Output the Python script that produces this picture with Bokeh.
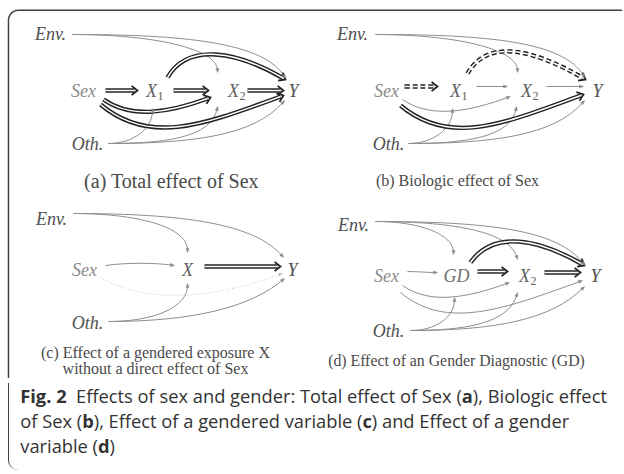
import numpy as np
from bokeh.plotting import figure
from bokeh.models import Range1d, Div, ColumnDataSource
from bokeh.layouts import column
from bokeh.core.properties import value
from bokeh.embed import file_html
from bokeh.resources import INLINE

# ---------------- data ----------------
panels = ["a", "b", "c", "d"]
captions = {
    "a": ["(a) Total effect of Sex"],
    "b": ["(b) Biologic effect of Sex"],
    "c": ["(c) Effect of a gendered exposure X", "without a direct effect of Sex"],
    "d": ["(d) Effect of an Gender Diagnostic (GD)"],
}
node_labels = {  # node id -> (main text, subscript)
    "Env": ("Env.", ""), "Sex": ("Sex", ""), "X1": ("X", "1"), "X2": ("X", "2"),
    "X": ("X", ""), "GD": ("GD", ""), "Y": ("Y", ""), "Oth": ("Oth.", ""),
}
panel_nodes = {
    "a": ["Env", "Sex", "X1", "X2", "Y", "Oth"],
    "b": ["Env", "Sex", "X1", "X2", "Y", "Oth"],
    "c": ["Env", "Sex", "X", "Y", "Oth"],
    "d": ["Env", "Sex", "GD", "X2", "Y", "Oth"],
}
# edges: (from, to, kind); kind: double = highlighted path, dashdouble = biologic path
edges = {
    "a": [("Env", "X2", "thin"), ("Env", "Y", "thin"), ("Sex", "X1", "double"),
          ("X1", "X2", "double"), ("X2", "Y", "double"), ("X1", "Y", "double"),
          ("Sex", "X2", "double"), ("Sex", "Y", "double"), ("Oth", "X1", "thin"),
          ("Oth", "X2", "thin"), ("Oth", "Y", "thin")],
    "b": [("Env", "X2", "thin"), ("Env", "Y", "thin"), ("Sex", "X1", "dashdouble"),
          ("X1", "X2", "thin"), ("X2", "Y", "thin"), ("X1", "Y", "dashdouble"),
          ("Sex", "X2", "thin"), ("Sex", "Y", "double"), ("Oth", "X1", "thin"),
          ("Oth", "X2", "thin"), ("Oth", "Y", "thin")],
    "c": [("Env", "X", "thin"), ("Env", "Y", "thin"), ("Sex", "X", "thin"),
          ("X", "Y", "double"), ("Sex", "Y", "dotted"), ("Oth", "X", "thin"),
          ("Oth", "Y", "thin")],
    "d": [("Env", "GD", "thin"), ("Env", "X2", "thin"), ("Env", "Y", "thin"),
          ("Sex", "GD", "thin"), ("GD", "X2", "double"), ("X2", "Y", "double"),
          ("GD", "Y", "double"), ("Sex", "X2", "thin"), ("Sex", "Y", "thin"),
          ("Oth", "GD", "thin"), ("Oth", "X2", "thin"), ("Oth", "Y", "thin")],
}
fig_caption_lines = [
    "<b>Fig. 2</b>&nbsp; Effects of sex and gender: Total effect of Sex (<b>a</b>), Biologic effect",
    "of Sex (<b>b</b>), Effect of a gendered variable (<b>c</b>) and Effect of a gender",
    "variable (<b>d</b>)",
]

# ---------------- layout (page pixel space) ----------------
node_pos = {
    "a": {"Env": (50, 33), "Sex": (83, 90), "X1": (151, 90), "X2": (233, 90), "Y": (293, 90), "Oth": (87, 143)},
    "b": {"Env": (352, 33), "Sex": (386, 90), "X1": (455, 90), "X2": (526, 90), "Y": (597, 90), "Oth": (388, 143)},
    "c": {"Env": (51, 218), "Sex": (84, 269), "X": (187, 269), "Y": (292, 269), "Oth": (87, 322)},
    "d": {"Env": (353, 224), "Sex": (386, 275), "GD": (456, 275), "X2": (524, 275), "Y": (595, 275), "Oth": (388, 330)},
}
# (start offset, end offset, out angle, in angle, control length out, control length in)
edge_geom = {
    "a": [((22, 1), (-16, -18), 0, 90, 80, 22), ((22, 1), (-8, -12), 0, 120, 110, 40),
          ((22, 0), (-14, 0), 0, 180, None, None), ((22, 0), (-25, 0), 0, 180, None, None),
          ((14, 0), (-10, 0), 0, 180, None, None), ((16, -13), (-8, -11), 60, 150, 41, 53),
          ((20, 9), (-23, 7), -35, -160, 35, 40), ((17, 14), (-10, 5), -40, -160, 65, 80),
          ((21, 0), (1, 18), 0, -90, 25, 18), ((21, 0), (-16, 16), 0, -100, 55, 30),
          ((21, 0), (-9, 10), 0, -130, 80, 45)],
    "b": [((23, 1), (-9, -18), 0, 90, 78, 22), ((23, 1), (-13, -13), 0, 120, 110, 40),
          ((18, -4), (-18, -4), 0, 180, None, None), ((21, -4), (-19, -4), 0, 180, None, None),
          ((20, -4), (-14, -4), 0, 180, None, None), ((12, -17), (-12, -11), 60, 150, 42, 55),
          ((16, 9), (-16, 6), -35, -160, 35, 40), ((14, 15), (-14, 4), -40, -160, 65, 80),
          ((20, 0), (-3, 18), 0, -90, 25, 18), ((20, 0), (-10, 16), 0, -100, 55, 30),
          ((20, 0), (-13, 10), 0, -130, 80, 45)],
    "c": [((22, -5), (0, -17), 0, 90, 60, 25), ((22, -5), (-9, -12), 0, 130, 110, 42),
          ((21, -4), (-13, -4), 8, 172, 20, 20), ((17, -3), (-12, -3), 0, 180, None, None),
          ((16, 8), (-10, 4), -30, -160, 55, 70), ((21, -1), (0, 14), 0, -90, 45, 22),
          ((21, -1), (-8, 9), 0, -140, 90, 40)],
    "d": [((22, -3), (-3, -21), 0, 90, 45, 18), ((22, -3), (-7, -16), 0, 105, 85, 25),
          ((22, -3), (-11, -10), 0, 125, 110, 42), ((21, -4), (-19, -3), 0, 180, None, None),
          ((21, -4), (-17, -4), 0, 180, None, None), ((20, -3), (-15, -3), 0, 180, None, None),
          ((14, -13), (-11, -10), 55, 150, 40, 50), ((16, 10), (-15, 7), -35, -160, 35, 40),
          ((14, 17), (-13, 5), -40, -160, 60, 80), ((22, 0), (-2, 22), 0, -90, 25, 18),
          ((22, 0), (-7, 17), 0, -105, 55, 30), ((22, 0), (-11, 11), 0, -135, 85, 45)],
}
caption_pos = {"a": [(171, 180)], "b": [(457, 180)], "c": [(155, 352), (155, 368)], "d": [(456, 360)]}
caption_size = {"a": "20px", "b": "16px", "c": "16px", "d": "15.8px"}
node_color = {"Env": "#505050", "Sex": "#8a8a8a", "X1": "#606060", "X2": "#606060", "X": "#606060",
              "GD": "#707070", "Y": "#505050", "Oth": "#505050"}

W, H, HC = 622, 378, 94
p = figure(width=W, height=H, x_range=Range1d(0, W), y_range=Range1d(H, 0),
           output_backend="svg", toolbar_location=None, min_border=0,
           x_axis_location=None, y_axis_location=None)
p.grid.visible = False
p.outline_line_color = None
p.background_fill_color = "white"
p.border_fill_color = "white"

# ---- frame (top + left edge with rounded corner) ----
r = 10
fx, fy = 8.0, 9.75
ang = np.linspace(np.pi, 1.5 * np.pi, 20)
arc_x = list(fx + r + r * np.cos(ang))
arc_y = list(fy + r + r * np.sin(ang))
p.line([fx] + [fx] + arc_x + [W], [H] + [fy + r] + arc_y + [fy],
       line_color="#404040", line_width=1.5)

# ---- edges ----
kinds = ["thin", "dotted", "double", "dashdouble"]
bz = {k: {c: [] for c in ["x0", "y0", "x1", "y1", "cx0", "cy0", "cx1", "cy1"]} for k in kinds}
tri = {"xs": [], "ys": [], "c": []}
chev = {"xs": [], "ys": []}


def unit(v):
    return v / np.linalg.norm(v)


def rot(v, a):
    c, s = np.cos(a), np.sin(a)
    return np.array([c * v[0] - s * v[1], s * v[0] + c * v[1]])


for pan in panels:
    for (src, dst, kind), (so, eo, out, inn, l1, l2) in zip(edges[pan], edge_geom[pan]):
        sx, sy = node_pos[pan][src]
        tx, ty = node_pos[pan][dst]
        p0 = np.array([sx + so[0], sy + so[1]], float)
        p3 = np.array([tx + eo[0], ty + eo[1]], float)
        dist = np.linalg.norm(p3 - p0)
        L1 = dist / 3 if l1 is None else l1
        L2 = dist / 3 if l2 is None else l2
        c1 = p0 + L1 * np.array([np.cos(np.radians(out)), -np.sin(np.radians(out))])
        c2 = p3 + L2 * np.array([np.cos(np.radians(inn)), -np.sin(np.radians(inn))])
        d = unit(p3 - c2)
        tip = p3.copy()
        sh = 3.0 if kind in ("double", "dashdouble") else 2.0
        p3s = p3 - sh * d
        c2s = c2 - sh * d
        b = bz[kind]
        b["x0"].append(p0[0]); b["y0"].append(p0[1])
        b["x1"].append(p3s[0]); b["y1"].append(p3s[1])
        b["cx0"].append(c1[0]); b["cy0"].append(c1[1])
        b["cx1"].append(c2s[0]); b["cy1"].append(c2s[1])
        if kind in ("double", "dashdouble"):
            a1 = tip - 7.5 * rot(d, np.radians(38))
            a2 = tip - 7.5 * rot(d, np.radians(-38))
            chev["xs"].append([a1[0], tip[0], a2[0]])
            chev["ys"].append([a1[1], tip[1], a2[1]])
        else:
            n = np.array([-d[1], d[0]])
            base = tip - 4.0 * d
            q1 = base + 1.6 * n
            q2 = base - 1.6 * n
            tri["xs"].append([tip[0], q1[0], q2[0]])
            tri["ys"].append([tip[1], q1[1], q2[1]])
            tri["c"].append("#8a8a8a" if kind == "thin" else "#c0c0c0")

p.bezier(source=ColumnDataSource(bz["thin"]), x0="x0", y0="y0", x1="x1", y1="y1",
         cx0="cx0", cy0="cy0", cx1="cx1", cy1="cy1", line_color="#8e8e8e", line_width=1.0)
p.bezier(source=ColumnDataSource(bz["dotted"]), x0="x0", y0="y0", x1="x1", y1="y1",
         cx0="cx0", cy0="cy0", cx1="cx1", cy1="cy1", line_color="#c4c4c4", line_width=1.0,
         line_dash="1 2")
for k, dash in (("double", "solid"), ("dashdouble", "5 3")):
    src = ColumnDataSource(bz[k])
    p.bezier(source=src, x0="x0", y0="y0", x1="x1", y1="y1", cx0="cx0", cy0="cy0",
             cx1="cx1", cy1="cy1", line_color="#222222", line_width=4.4, line_dash=dash)
    p.bezier(source=src, x0="x0", y0="y0", x1="x1", y1="y1", cx0="cx0", cy0="cy0",
             cx1="cx1", cy1="cy1", line_color="white", line_width=1.5, line_dash=dash)
p.multi_line(xs="xs", ys="ys", source=ColumnDataSource(chev), line_color="#222222",
             line_width=1.8, line_join="miter")
p.patches(xs="xs", ys="ys", source=ColumnDataSource(tri), fill_color="c", line_color="c",
          line_width=0.5)

# ---- node labels ----
mx, my, mt, mc = [], [], [], []
sx_, sy_, st, sc = [], [], [], []
for pan in panels:
    for nd in panel_nodes[pan]:
        x, y = node_pos[pan][nd]
        main, sub = node_labels[nd]
        mx.append(x); my.append(y); mt.append(main); mc.append(node_color[nd])
        if sub:
            sx_.append(x + 9); sy_.append(y + 5); st.append(sub); sc.append(node_color[nd])
p.text(x=mx, y=my, text=mt, text_color=mc, text_font=value("Liberation Serif"),
       text_font_style="italic", text_font_size="18px", text_align="center",
       text_baseline="middle")
p.text(x=sx_, y=sy_, text=st, text_color=sc, text_font=value("Liberation Serif"),
       text_font_size="12px", text_align="center", text_baseline="middle")

# ---- panel captions ----
cx, cy, ct, cs = [], [], [], []
for pan in panels:
    for (x, y), t in zip(caption_pos[pan], captions[pan]):
        cx.append(x); cy.append(y); ct.append(t); cs.append(caption_size[pan])
cap_src = ColumnDataSource(dict(x=cx, y=cy, text=ct, fs=cs))
p.text(x="x", y="y", text="text", source=cap_src, text_color="#4a4a4a",
       text_font=value("Liberation Serif"), text_font_size="fs",
       text_align="center", text_baseline="middle")

# ---- figure caption ----
inner = ('<div style="margin-left:3px; border-left:1.5px solid #404040; '
         'border-bottom-left-radius:10px; padding-left:11.25px; padding-top:0px; '
         'height:87px; box-sizing:border-box; white-space:nowrap; '
         "font-family:'Open Sans', sans-serif; font-size:18.3px; line-height:25px; "
         'color:#333333;">' + "<br>".join(fig_caption_lines) + "</div>")
cap = Div(text=inner, width=W, height=HC)

layout = column(p, cap, spacing=0)
open("out.html", "w").write(file_html(layout, INLINE))
